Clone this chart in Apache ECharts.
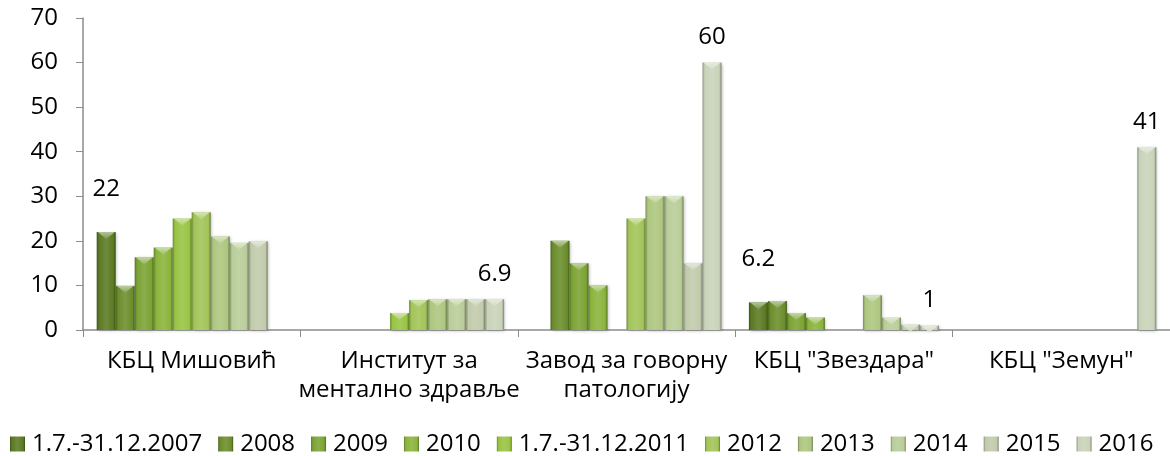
<!DOCTYPE html>
<html>
<head>
<meta charset="utf-8">
<script src="https://cdn.jsdelivr.net/npm/echarts@6/dist/echarts.min.js"></script>
<style>
  html, body { margin: 0; padding: 0; background: #fff; }
  #chart { width: 1170px; height: 456px; }
</style>
</head>
<body>
<div id="chart"></div>
<script>
// категорије и серије
const categories = ['КБЦ Мишовић', 'Институт за\nментално здравље', 'Завод за говорну\nпатологију', 'КБЦ "Звездара"', 'КБЦ "Земун"']
const seriesNames = ['1.7.-31.12.2007', '2008', '2009', '2010', '1.7.-31.12.2011', '2012', '2013', '2014', '2015', '2016']

// вредности по категоријама (null = нема податка)
const v2007 = [22, null, null, 6.2, null]
const v2008 = [9.9, null, 20, 6.5, null]
const v2009 = [16.3, null, 15, 3.8, null]
const v2010 = [18.5, null, 10, 2.8, null]
const v2011 = [25, 3.8, null, null, null]
const v2012 = [26.4, 6.7, 25, null, null]
const v2013 = [21, 6.9, 30, 7.8, null]
const v2014 = [19.6, 6.9, 30, 2.8, null]
const v2015 = [19.9, 6.9, 15, 1.2, null]
const v2016 = [null, 6.9, 60, 1, 41]
const values = [v2007, v2008, v2009, v2010, v2011, v2012, v2013, v2014, v2015, v2016]

// ознаке вредности које су приказане на графикону
const labeled = { 0: [0, 3], 9: [1, 2, 3, 4] }

const colors = ['#5b7a23', '#6b8d2b', '#7ba334', '#8ab43c', '#98c443', '#a2c458', '#adc67f', '#b9cd98', '#c1cbab', '#c9d3b9']

function mix (hex, target, t) {
  const a = parseInt(hex.slice(1), 16)
  const b = parseInt(target.slice(1), 16)
  const r = Math.round(((a >> 16) & 255) * (1 - t) + ((b >> 16) & 255) * t)
  const g = Math.round(((a >> 8) & 255) * (1 - t) + ((b >> 8) & 255) * t)
  const bl = Math.round((a & 255) * (1 - t) + (b & 255) * t)
  return 'rgb(' + r + ',' + g + ',' + bl + ')'
}

function barFill (c) {
  return new echarts.graphic.LinearGradient(0, 0, 1, 0, [
    { offset: 0, color: mix(c, '#000000', 0.3) },
    { offset: 0.12, color: c },
    { offset: 0.5, color: mix(c, '#ffffff', 0.12) },
    { offset: 0.88, color: c },
    { offset: 1, color: mix(c, '#000000', 0.38) }
  ])
}

const font = 'Open Sans'
const fs = 24
const series = []

seriesNames.forEach((name, i) => {
  const lab = labeled[i] || []
  series.push({
    name: name,
    type: 'bar',
    barWidth: 19,
    barGap: '0%',
    data: values[i].map((v, j) => {
      if (v === null) return null
      const item = { value: v }
      if (lab.indexOf(j) >= 0) {
        item.label = {
          show: true,
          position: 'top',
          distance: i === 0 ? 31 : 13,
          color: '#000',
          fontSize: fs,
          fontFamily: font
        }
      }
      return item
    }),
    itemStyle: {
      color: barFill(colors[i]),
      shadowColor: 'rgba(0,0,0,0.25)',
      shadowBlur: 3,
      shadowOffsetX: 1,
      shadowOffsetY: 1
    },
    z: 2
  })
  // светли троугао на врху стубића
  series.push({
    name: '_top' + i,
    type: 'pictorialBar',
    barWidth: 19,
    barGap: '0%',
    symbol: 'path://M0,0 L10,0 L5,4 Z',
    symbolSize: [17, 7],
    symbolPosition: 'end',
    data: values[i],
    itemStyle: {
      color: new echarts.graphic.LinearGradient(0, 0, 0, 1, [
        { offset: 0, color: mix(colors[i], '#ffffff', 0.55) },
        { offset: 1, color: mix(colors[i], '#ffffff', 0.2) }
      ])
    },
    silent: true,
    z: 3
  })
})

const chart = echarts.init(document.getElementById('chart'))
chart.setOption({
  animation: false,
  textStyle: { fontFamily: font },
  grid: { left: 83, right: 0, top: 18, bottom: 126 },
  legend: {
    data: seriesNames.map((n, i) => ({ name: n, itemStyle: { color: barFill(colors[i]) } })),
    left: 5,
    top: 427,
    icon: 'rect',
    itemWidth: 15,
    itemHeight: 15,
    itemGap: 16,
    textStyle: { fontSize: fs, color: '#000', fontFamily: font, padding: [0, 0, 0, 2] }
  },
  xAxis: {
    type: 'category',
    data: categories,
    axisLine: { lineStyle: { color: '#8c8c8c', width: 1.5 } },
    axisTick: { show: true, length: 7, lineStyle: { color: '#8c8c8c' } },
    axisLabel: { color: '#000', fontSize: fs, fontFamily: font, margin: 17, lineHeight: 29, interval: 0 }
  },
  yAxis: {
    type: 'value',
    min: 0,
    max: 70,
    interval: 10,
    axisLine: { show: true, lineStyle: { color: '#8c8c8c', width: 1.5 } },
    axisTick: { show: true, length: 7, lineStyle: { color: '#8c8c8c' } },
    splitLine: { show: false },
    axisLabel: { color: '#000', fontSize: fs, fontFamily: font, margin: 25 }
  },
  series: series
})
</script>
</body>
</html>
